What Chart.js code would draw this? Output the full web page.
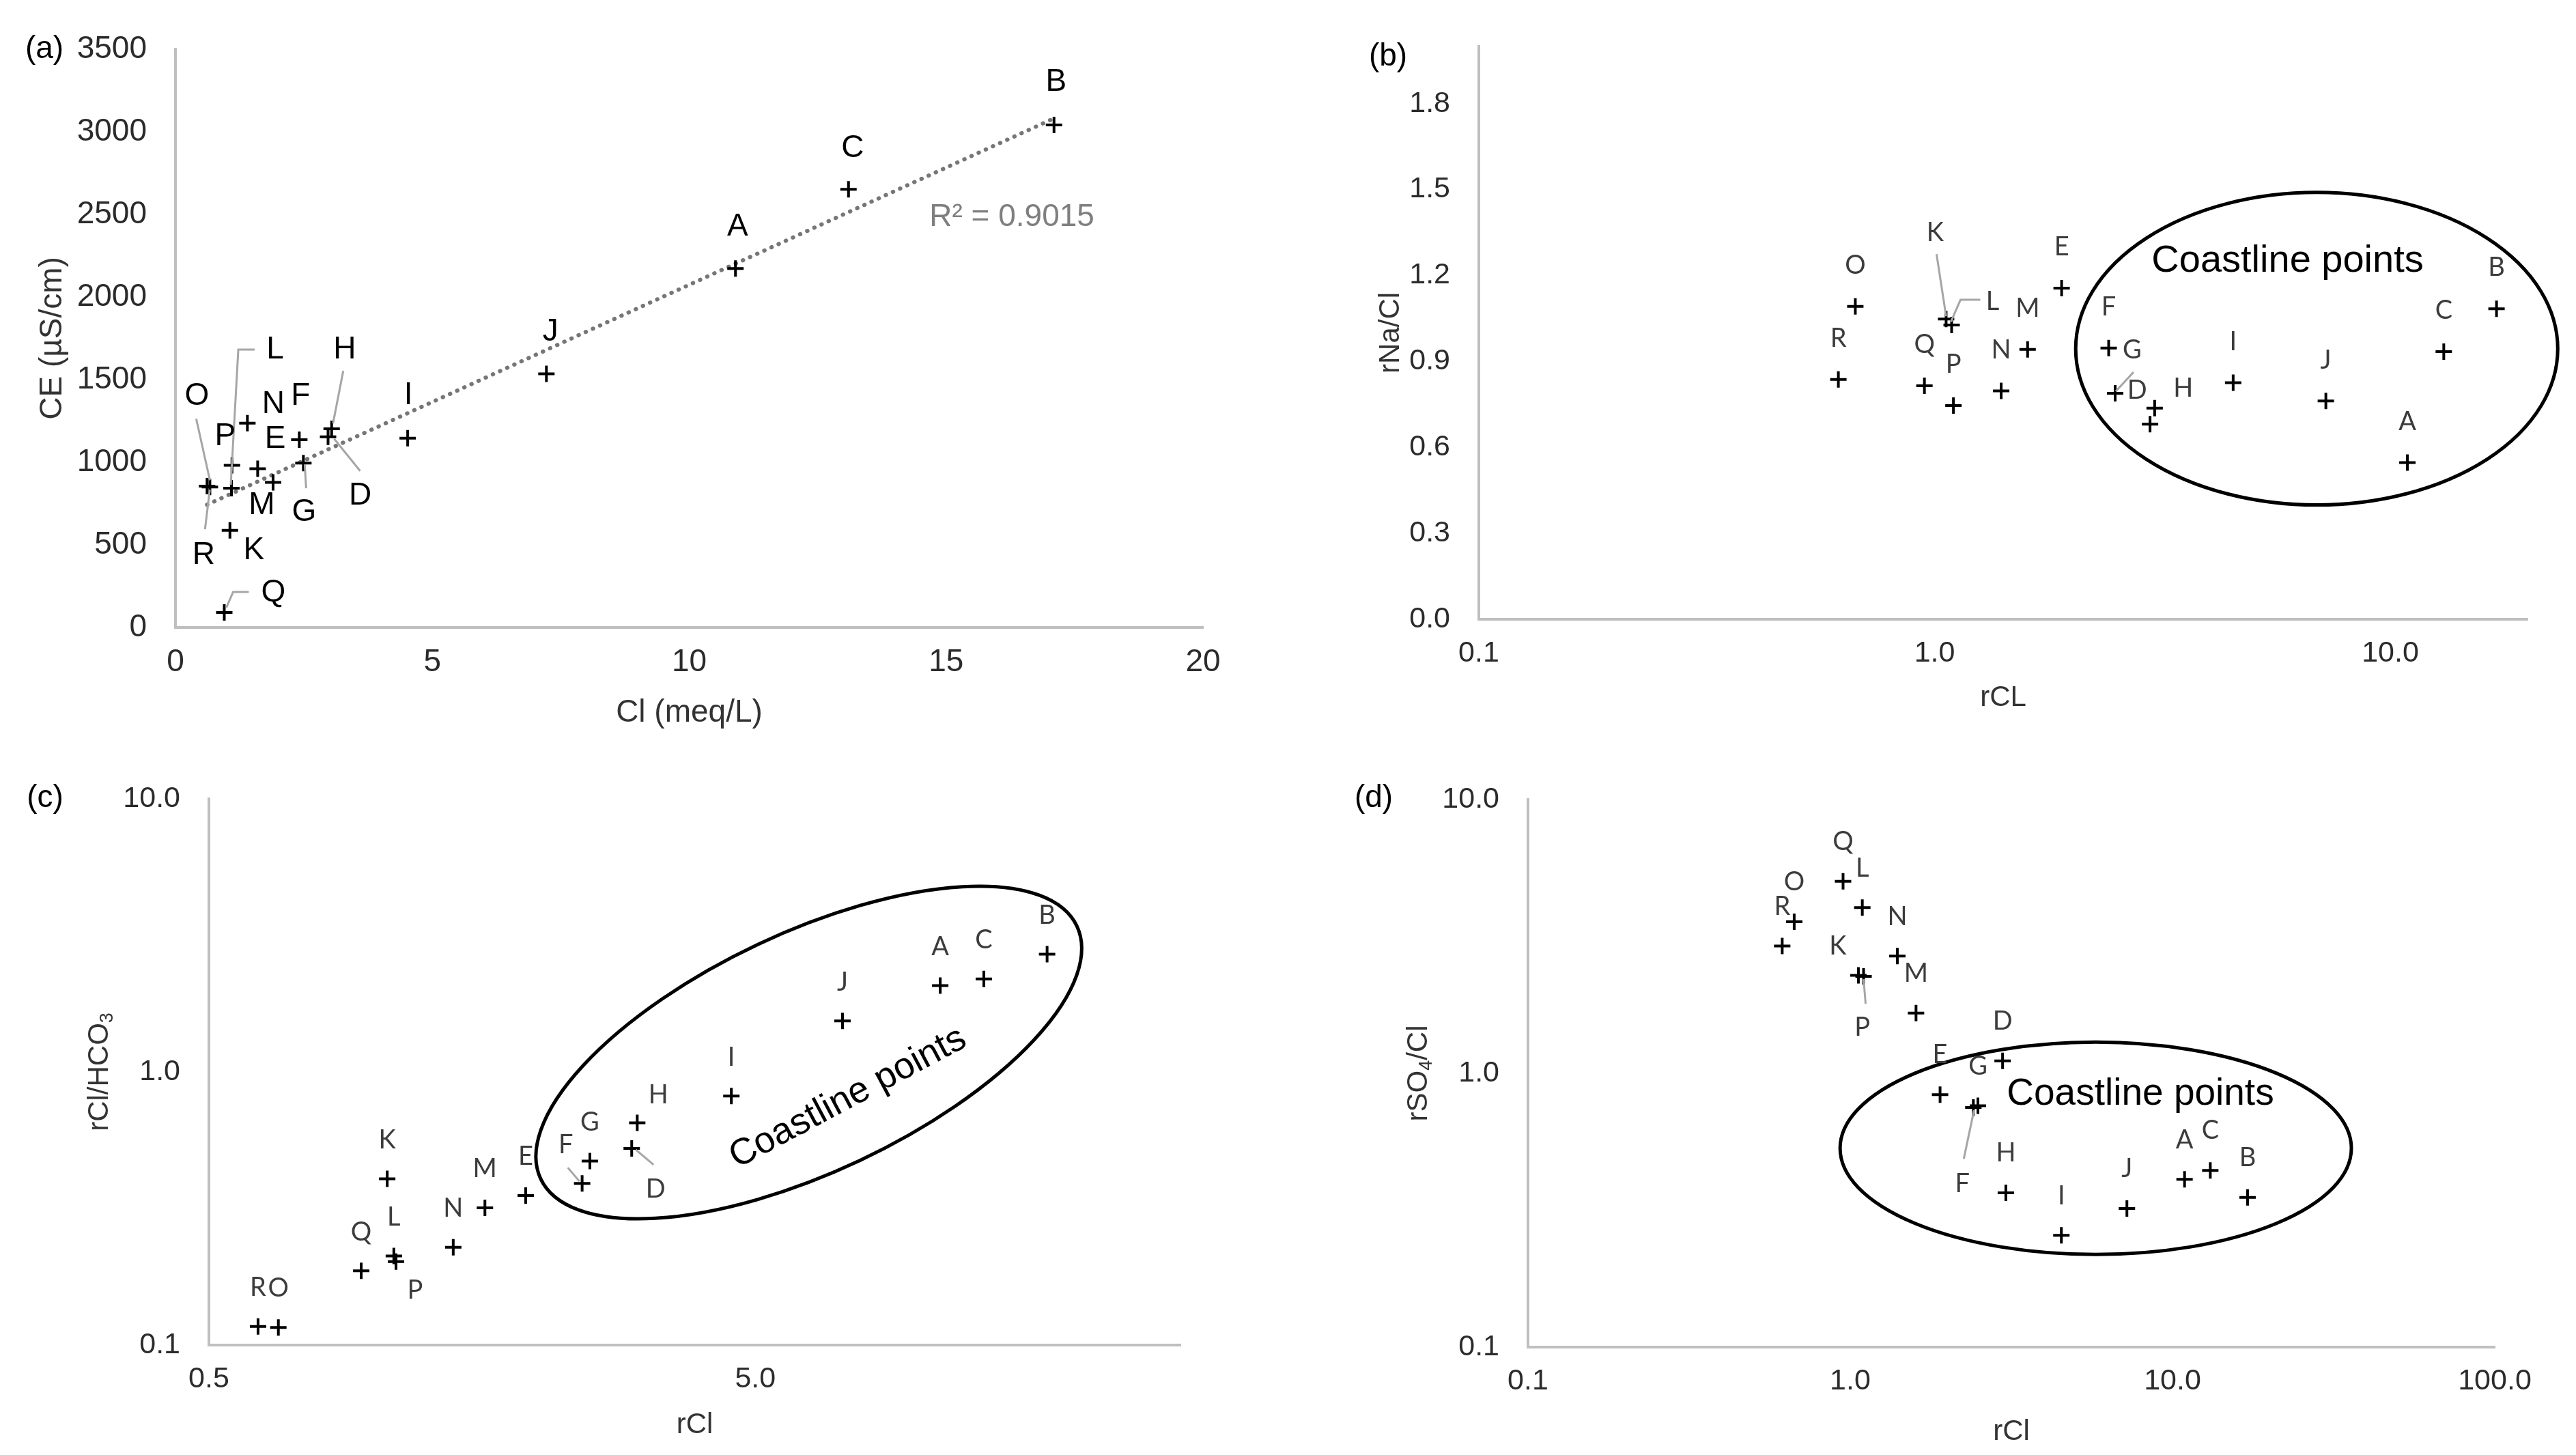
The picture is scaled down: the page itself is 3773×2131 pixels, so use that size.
<!DOCTYPE html>
<html>
<head>
<meta charset="utf-8">
<title>Hydrochemical ratios</title>
<script src="https://cdn.jsdelivr.net/npm/chart.js@4.4.1/dist/chart.umd.min.js"></script>
<style>
  html, body { margin: 0; padding: 0; background: #fff; }
  body { position: relative; width: 3773px; height: 2131px; overflow: hidden; }
  canvas { position: absolute; }
</style>
</head>
<body>
<canvas id="panelA"></canvas>
<canvas id="panelB"></canvas>
<canvas id="panelC"></canvas>
<canvas id="panelD"></canvas>
<script>
const sites   = ['A', 'B', 'C', 'D', 'E', 'F', 'G', 'H', 'I', 'J', 'K', 'L', 'M', 'N', 'O', 'P', 'Q', 'R'];
const rCl     = [10.9, 17.1, 13.1, 2.97, 1.90, 2.41, 2.49, 3.04, 4.52, 7.22, 1.06, 1.09, 1.60, 1.40, 0.67, 1.10, 0.95, 0.615];
const ce      = [2173, 3041, 2652, 1154, 878, 1136, 995, 1202, 1146, 1535, 588, 843, 961, 1237, 850, 981, 91, 855];
const rNaCl   = [0.547, 1.084, 0.934, 0.681, 1.156, 0.947, 0.789, 0.737, 0.826, 0.762, 1.048, 1.027, 0.942, 0.797, 1.092, 0.746, 0.815, 0.837];
const rClHCO3 = [2.07, 2.70, 2.19, 0.525, 0.353, 0.391, 0.472, 0.651, 0.816, 1.537, 0.406, 0.212, 0.318, 0.228, 0.116, 0.202, 0.187, 0.117];
const rSO4Cl  = [0.41, 0.352, 0.442, 1.11, 0.836, 0.75, 0.761, 0.366, 0.256, 0.321, 2.28, 4.03, 1.66, 2.68, 3.58, 2.26, 5.03, 2.92];

// Tick values
const ticksClA   = [0, 5, 10, 15, 20];
const ticksCE    = [0, 500, 1000, 1500, 2000, 2500, 3000, 3500];
const ticksLogB  = [0.1, 1, 10];
const ticksNaCl  = [0, 0.3, 0.6, 0.9, 1.2, 1.5, 1.8];
const ticksLogC  = [0.5, 5];
const ticksDecade = [0.1, 1, 10];
const ticksLogD  = [0.1, 1, 10, 100];
const r2Text = 'R\u00B2 = 0.9015';

const SANS = '"Liberation Sans", Arial, sans-serif';
const LABEL_FONT = 'Lato, "Open Sans", sans-serif';

// Least-squares fit for the CE trendline
function linFit(xs, ys) {
  const n = xs.length;
  const mx = xs.reduce((a, b) => a + b, 0) / n;
  const my = ys.reduce((a, b) => a + b, 0) / n;
  let sxy = 0, sxx = 0;
  xs.forEach((x, i) => { sxy += (x - mx) * (ys[i] - my); sxx += (x - mx) * (x - mx); });
  const m = sxy / sxx;
  return { m, b: my - m * mx };
}

// Text with optional subscript parts, centred on the current origin
function drawParts(ctx, parts, size) {
  ctx.textAlign = 'left';
  ctx.textBaseline = 'middle';
  const widths = parts.map(p => {
    ctx.font = `${p.sub ? Math.round(size * 0.65) : size}px ${SANS}`;
    return ctx.measureText(p.t).width;
  });
  let x = -widths.reduce((a, b) => a + b, 0) / 2;
  parts.forEach((p, i) => {
    ctx.font = `${p.sub ? Math.round(size * 0.65) : size}px ${SANS}`;
    ctx.fillText(p.t, x, p.sub ? size * 0.28 : 0);
    x += widths[i];
  });
}

// Labels, leader lines, ellipses, notes and axis titles
const decorPlugin = {
  id: 'decor',
  afterDatasetsDraw(chart, args, o) {
    if (!o || !o.names) return;
    const { ctx, chartArea: ca } = chart;
    const px = v => chart.scales.x.getPixelForValue(v);
    const py = v => chart.scales.y.getPixelForValue(v);
    const pts = o.xs.map((x, i) => [px(x), py(o.ys[i])]);
    ctx.save();

    if (o.ellipse) {
      const e = o.ellipse;
      ctx.beginPath();
      if (e.kind === 'box') {
        const x0 = px(e.x0), x1 = px(e.x1), y0 = py(e.y0), y1 = py(e.y1);
        ctx.ellipse((x0 + x1) / 2, (y0 + y1) / 2, Math.abs(x1 - x0) / 2, Math.abs(y1 - y0) / 2, 0, 0, Math.PI * 2);
      } else {
        const ax = px(e.p0[0]), ay = py(e.p0[1]), bx = px(e.p1[0]), by = py(e.p1[1]);
        ctx.ellipse((ax + bx) / 2, (ay + by) / 2, Math.hypot(bx - ax, by - ay) / 2, e.minor,
          Math.atan2(by - ay, bx - ax), 0, Math.PI * 2);
      }
      ctx.lineWidth = 5;
      ctx.strokeStyle = '#000';
      ctx.stroke();
    }

    ctx.strokeStyle = '#a6a6a6';
    ctx.lineWidth = 3;
    o.names.forEach((n, i) => {
      const path = o.leaders[n];
      if (!path) return;
      ctx.beginPath();
      path.forEach(([dx, dy], k) => {
        if (k === 0) ctx.moveTo(pts[i][0] + dx, pts[i][1] + dy);
        else ctx.lineTo(pts[i][0] + dx, pts[i][1] + dy);
      });
      ctx.stroke();
    });

    ctx.font = `${o.labelSize}px ${o.labelFamily}`;
    ctx.fillStyle = o.labelColor;
    ctx.textAlign = 'center';
    ctx.textBaseline = 'middle';
    o.names.forEach((n, i) => {
      const [dx, dy] = o.offsets[n] || o.defaultOffset;
      ctx.fillText(n, pts[i][0] + dx, pts[i][1] + dy);
    });

    (o.notes || []).forEach(nt => {
      ctx.save();
      ctx.translate(px(nt.x), py(nt.y));
      ctx.rotate((nt.rot || 0) * Math.PI / 180);
      ctx.font = `${nt.size}px ${SANS}`;
      ctx.fillStyle = nt.color;
      ctx.textAlign = 'center';
      ctx.textBaseline = 'middle';
      ctx.fillText(nt.text, 0, 0);
      ctx.restore();
    });

    const cx = (ca.left + ca.right) / 2, cy = (ca.top + ca.bottom) / 2;
    ctx.fillStyle = '#333';
    ctx.save();
    ctx.translate(cx, ca.bottom + o.xTitle.dy);
    drawParts(ctx, o.xTitle.parts, o.titleSize);
    ctx.restore();
    ctx.save();
    ctx.translate(ca.left + o.yTitle.dx, cy);
    ctx.rotate(-Math.PI / 2);
    drawParts(ctx, o.yTitle.parts, o.titleSize);
    ctx.restore();

    ctx.fillStyle = '#000';
    ctx.font = `46px ${SANS}`;
    ctx.textAlign = 'center';
    ctx.textBaseline = 'middle';
    ctx.fillText(o.panel.text, ca.left + o.panel.dx, ca.top + o.panel.dy);
    ctx.restore();
  }
};
Chart.register(decorPlugin);

function axis(type, min, max, ticks, fmt, isX, size, fixed) {
  return {
    type, min, max,
    afterBuildTicks: s => { s.ticks = ticks.map(v => ({ value: v })); },
    afterFit: s => { if (isX) s.height = fixed; else s.width = fixed; },
    ticks: {
      callback: fmt, autoSkip: false, maxRotation: 0,
      font: { family: SANS, size }, color: '#2b2b2b',
      padding: isX ? 24 : 42
    },
    grid: { display: false, drawTicks: false },
    border: { display: true, color: '#bfbfbf', width: 4 }
  };
}

function makePanel(id, p) {
  const [bx, by, bw, bh] = p.box;
  const [al, at, ar, ab] = p.area;
  const yW = 200, xH = 150;
  const canvas = document.getElementById(id);
  canvas.width = bw; canvas.height = bh;
  canvas.style.left = bx + 'px'; canvas.style.top = by + 'px';
  canvas.style.width = bw + 'px'; canvas.style.height = bh + 'px';

  const datasets = [{
    data: p.xs.map((x, i) => ({ x, y: p.ys[i] })),
    pointStyle: 'cross', pointRadius: 12, pointBorderWidth: 4,
    pointBorderColor: '#000', borderColor: '#000', backgroundColor: '#000',
    showLine: false, order: 1
  }];
  if (p.trend) datasets.push(p.trend);

  new Chart(canvas, {
    type: 'scatter',
    data: { datasets },
    options: {
      responsive: false, animation: false, devicePixelRatio: 1, events: [],
      layout: { padding: { left: al - bx - yW, top: at - by, right: bx + bw - ar, bottom: by + bh - ab - xH } },
      scales: {
        x: axis(p.x.type, p.x.min, p.x.max, p.x.ticks, p.x.fmt, true, p.tickSize, xH),
        y: axis(p.y.type, p.y.min, p.y.max, p.y.ticks, p.y.fmt, false, p.tickSize, yW)
      },
      plugins: {
        legend: { display: false },
        tooltip: { enabled: false },
        decor: Object.assign({ names: sites, xs: p.xs, ys: p.ys }, p.decor)
      }
    }
  });
}

const fmt1 = v => Number(v).toFixed(1);
const fmt0 = v => String(v);

// Panel (a): CE vs Cl with linear trendline
const fit = linFit(rCl, ce);
const xLo = Math.min(...rCl), xHi = Math.max(...rCl);
makePanel('panelA', {
  box: [0, 0, 1886, 1080], area: [257, 72, 1762, 919], tickSize: 46,
  xs: rCl, ys: ce,
  x: { type: 'linear', min: 0, max: 20, ticks: ticksClA, fmt: fmt0 },
  y: { type: 'linear', min: 0, max: 3500, ticks: ticksCE, fmt: fmt0 },
  trend: {
    data: [{ x: xLo, y: fit.b + fit.m * xLo }, { x: xHi, y: fit.b + fit.m * xHi }],
    showLine: true, pointRadius: 0, borderColor: '#767676', borderWidth: 6,
    borderDash: [0.5, 11], borderCapStyle: 'round', order: 2
  },
  decor: {
    labelSize: 46, labelFamily: SANS, labelColor: '#000', defaultOffset: [0, -62],
    offsets: {
      A: [3, -61], B: [3, -63], C: [6, -60], D: [47, 87], E: [3, -63], F: [2, -64], G: [1, 72],
      H: [19, -116], I: [1, -62], J: [6, -61], K: [35, 30], L: [64, -203], M: [6, 54],
      N: [38, -27], O: [-19, -133], P: [-10, -42], Q: [72, -29], R: [-5, 101]
    },
    leaders: {
      D: [[47, 50], [9, 3]], G: [[4, 37], [2, 2]], H: [[17, -85], [2, -8]],
      L: [[34, -203], [10, -203], [-1, -5]], O: [[-20, -100], [0, -10]],
      Q: [[36, -30], [13, -30], [3, -7]], R: [[-3, 63], [4, 5]]
    },
    notes: [{ text: r2Text, x: 16.28, y: 2483, size: 46, color: '#7f7f7f' }],
    titleSize: 46,
    xTitle: { parts: [{ t: 'Cl (meq/L)' }], dy: 125 },
    yTitle: { parts: [{ t: 'CE (\u00B5S/cm)' }], dx: -180 },
    panel: { text: '(a)', dx: -192, dy: 0 }
  }
});

// Panel (b): rNa/Cl vs rCl
makePanel('panelB', {
  box: [1886, 0, 1887, 1080], area: [2166, 54, 3702, 907], tickSize: 43,
  xs: rCl, ys: rNaCl,
  x: { type: 'logarithmic', min: 0.1, max: 20, ticks: ticksLogB, fmt: fmt1 },
  y: { type: 'linear', min: 0, max: 2.0, ticks: ticksNaCl, fmt: fmt1 },
  decor: {
    labelSize: 38, labelFamily: LABEL_FONT, labelColor: '#3c3c3c', defaultOffset: [0, -60],
    offsets: { D: [-19, -50], G: [25, -63], H: [42, -29], K: [-16, -127], L: [60, -34] },
    leaders: {
      G: [[27, -31], [1, -3]], K: [[-14, -95], [0, -4]], L: [[42, -37], [13, -37], [-1, -5]]
    },
    ellipse: { kind: 'box', x0: 2.04, x1: 23.3, y0: 0.399, y1: 1.49 },
    notes: [{ text: 'Coastline points', x: 5.95, y: 1.25, size: 56, color: '#000' }],
    titleSize: 42,
    xTitle: { parts: [{ t: 'rCL' }], dy: 115 },
    yTitle: { parts: [{ t: 'rNa/Cl' }], dx: -129 },
    panel: { text: '(b)', dx: -133, dy: 16 }
  }
});

// Panel (c): rCl/HCO3 vs rCl
makePanel('panelC', {
  box: [0, 1080, 1886, 1051], area: [306, 1170, 1729, 1970], tickSize: 43,
  xs: rCl, ys: rClHCO3,
  x: { type: 'logarithmic', min: 0.5, max: 30, ticks: ticksLogC, fmt: fmt1 },
  y: { type: 'logarithmic', min: 0.1, max: 10, ticks: ticksDecade, fmt: fmt1 },
  decor: {
    labelSize: 38, labelFamily: LABEL_FONT, labelColor: '#3c3c3c', defaultOffset: [0, -57],
    offsets: { P: [28, 42], F: [-24, -56], H: [31, -41], D: [35, 60] },
    leaders: { F: [[-21, -23], [-4, -3]], D: [[32, 24], [6, 2]] },
    ellipse: { kind: 'axis', p0: [2.024, 0.406], p1: [19.39, 3.42], minor: 175 },
    notes: [{ text: 'Coastline points', x: 7.39, y: 0.803, rot: -28, size: 54, color: '#000' }],
    titleSize: 42,
    xTitle: { parts: [{ t: 'rCl' }], dy: 117 },
    yTitle: { parts: [{ t: 'rCl/HCO' }, { t: '3', sub: true }], dx: -160 },
    panel: { text: '(c)', dx: -240, dy: -1 }
  }
});

// Panel (d): rSO4/Cl vs rCl
makePanel('panelD', {
  box: [1886, 1080, 1887, 1051], area: [2238, 1171, 3654, 1973], tickSize: 43,
  xs: rCl, ys: rSO4Cl,
  x: { type: 'logarithmic', min: 0.1, max: 100, ticks: ticksLogD, fmt: fmt1 },
  y: { type: 'logarithmic', min: 0.1, max: 10, ticks: ticksDecade, fmt: fmt1 },
  decor: {
    labelSize: 38, labelFamily: LABEL_FONT, labelColor: '#3c3c3c', defaultOffset: [0, -58],
    offsets: { K: [-30, -43], P: [-2, 75], F: [-16, 112] },
    leaders: { P: [[3, 40], [0, 4]], F: [[-14, 75], [1, 4]] },
    ellipse: { kind: 'box', x0: 0.93, x1: 35.9, y0: 0.218, y1: 1.3 },
    notes: [{ text: 'Coastline points', x: 7.95, y: 0.84, size: 55, color: '#000' }],
    titleSize: 42,
    xTitle: { parts: [{ t: 'rCl' }], dy: 124 },
    yTitle: { parts: [{ t: 'rSO' }, { t: '4', sub: true }, { t: '/Cl' }], dx: -160 },
    panel: { text: '(d)', dx: -226, dy: -2 }
  }
});
</script>
</body>
</html>
